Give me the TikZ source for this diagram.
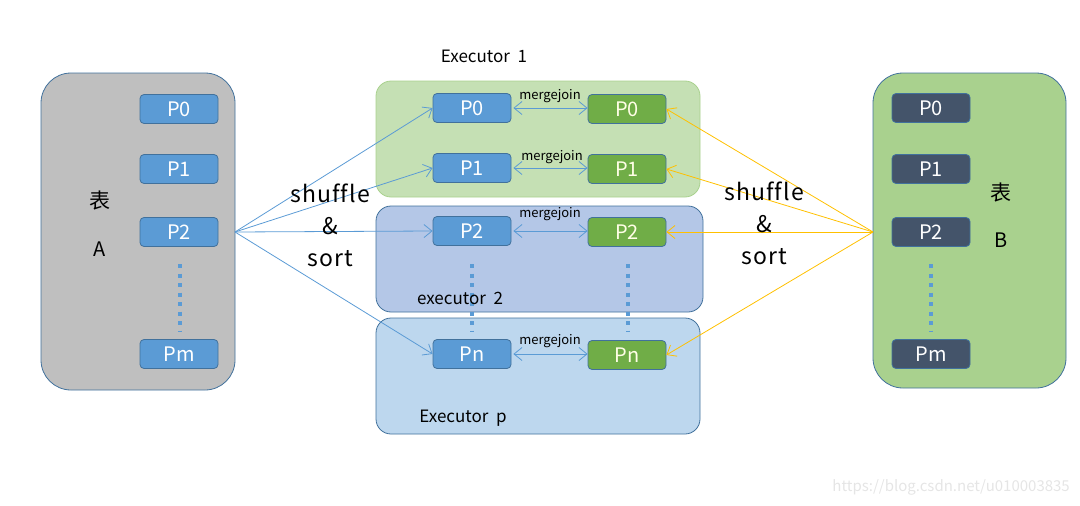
\documentclass[tikz,border=0pt]{standalone}
\usepackage{fontspec}
\setmainfont{Noto Sans CJK SC}
\usetikzlibrary{arrows.meta}
\definecolor{pblue}{HTML}{5B9BD5}
\definecolor{bord}{HTML}{41719C}
\definecolor{tgray}{HTML}{BFBFBF}
\definecolor{tgreen}{HTML}{A9D18E}
\definecolor{egreen}{HTML}{C5E0B4}
\definecolor{egreenb}{HTML}{A9D18E}
\definecolor{eblue2}{HTML}{B4C7E7}
\definecolor{eblue3}{HTML}{BDD7EE}
\definecolor{pgreen}{HTML}{70AD47}
\definecolor{pdark}{HTML}{44546A}
\definecolor{arrY}{HTML}{FFC000}
\tikzset{
  tablebox/.style={draw=bord, line width=0.8pt, rounded corners=30pt},
  execbox/.style={draw=bord, line width=0.8pt, rounded corners=15pt},
  pbox/.style={draw=bord, line width=0.8pt, rounded corners=4pt, minimum width=78pt, minimum height=29pt, inner sep=0pt, text=white, font=\fontsize{20}{22}\selectfont},
  pA/.style={pbox, fill=pblue},
  pG/.style={pbox, fill=pgreen, text=white!90!yellow},
  pD/.style={pbox, fill=pdark},
  dots/.style={pblue, line width=4pt, dash pattern=on 4pt off 5.5pt},
  shufA/.style={pblue, line width=0.8pt, -{Straight Barb[length=8pt,width=13pt]}},
  shufB/.style={arrY, line width=0.8pt, -{Straight Barb[length=8pt,width=13pt]}},
  mj/.style={pblue, line width=0.8pt, {Straight Barb[length=8pt,width=13pt]}-{Straight Barb[length=8pt,width=13pt]}},
  mjl/.style={font=\fontsize{13}{15}\selectfont, inner sep=0pt},
  lbl/.style={font=\fontsize{17}{19}\selectfont, inner sep=0pt},
  ab/.style={font=\fontsize{20}{22}\selectfont, inner sep=0pt},
  cjk/.style={font=\fontsize{21}{23}\selectfont, inner sep=0pt},
  big/.style={font=\fontsize{23}{26}\selectfont\addfontfeatures{LetterSpace=5,Ligatures=NoCommon}, inner sep=0pt},
}
\begin{document}
\begin{tikzpicture}[x=1pt,y=-1pt]
\useasboundingbox (0,0) rectangle (1080,506);
% tables
\draw[tablebox, fill=tgray] (41,73) rectangle (235,390);
\draw[tablebox, fill=tgreen] (873,73) rectangle (1066,388);
% executors
\draw[execbox, draw=egreenb, fill=egreen] (376,81) rectangle (700,197);
\draw[execbox, fill=eblue2] (376,206) rectangle (703,312);
\draw[execbox, fill=eblue3] (376,318) rectangle (700,434);
% dots
\draw[dots] (180,264) -- (180,332);
\draw[dots] (931,264) -- (931,332);
\draw[dots] (472,264) -- (472,332);
\draw[dots] (628,264) -- (628,332);
% table A parts
\node[pA] (a0) at (179,109) {P0};
\node[pA] (a1) at (179,169) {P1};
\node[pA] (a2) at (179,232) {P2};
\node[pA] (am) at (179,354) {Pm};
\node[cjk] (ta1) at (100,201) {表};
\node[ab] (ta2) at (100,249) {A};
% table B parts
\node[pD] (b0) at (931,108) {P0};
\node[pD] (b1) at (931,169) {P1};
\node[pD] (b2) at (931,232) {P2};
\node[pD] (bm) at (931,354) {Pm};
\node[cjk] (tb1) at (1001,193) {表};
\node[ab] (tb2) at (1001,240) {B};
% executor parts
\node[pA] (l0) at (472,108) {P0};
\node[pA] (l1) at (472,168) {P1};
\node[pA] (l2) at (472,231) {P2};
\node[pA] (ln) at (472,354) {Pn};
\node[pG] (r0) at (627,109) {P0};
\node[pG] (r1) at (627,169) {P1};
\node[pG] (r2) at (627,232) {P2};
\node[pG] (rn) at (627,355) {Pn};
\node[lbl] (e1) at (484,56) {Executor\ \ 1};
\node[lbl] (e2) at (460,298) {executor\ \ 2};
\node[lbl] (ep) at (463,418) {Executor\ \ p};
% mergejoin
\draw[mj] (l0.east) ++(2,0) -- (r0.west |- l0.east);
\draw[mj] (l1.east) ++(2,0) -- (r1.west |- l1.east);
\draw[mj] (l2.east) ++(2,0) -- (r2.west |- l2.east);
\draw[mj] (ln.east) ++(2,0) -- (rn.west |- ln.east);
\node[mjl] (mj0) at (550,96) {mergejoin};
\node[mjl] (mj1) at (552,157) {mergejoin};
\node[mjl] (mj2) at (550,214) {mergejoin};
\node[mjl] (mj3) at (550,341) {mergejoin};
% shuffle arrows
\coordinate (sa) at (235,232);
\coordinate (sb) at (873,232);
\foreach \t in {l0,l1,l2,ln} \draw[shufA] (sa) -- (\t.west);
\foreach \t in {r0,r1,r2,rn} \draw[shufB] (sb) -- (\t.east);
\node[big] (s1a) at (330,193) {shuffle};
\node[big] (s1b) at (330,226) {\&};
\node[big] (s1c) at (330,259) {sort};
\node[big] (s2a) at (764,191) {shuffle};
\node[big] (s2b) at (764,224) {\&};
\node[big] (s2c) at (764,257) {sort};
% watermark
\node[font=\fontsize{15}{17}\selectfont, text=black!10, anchor=east, inner sep=0pt] (wm) at (1070,487) {https://blog.csdn.net/u010003835};
\end{tikzpicture}
\end{document}
